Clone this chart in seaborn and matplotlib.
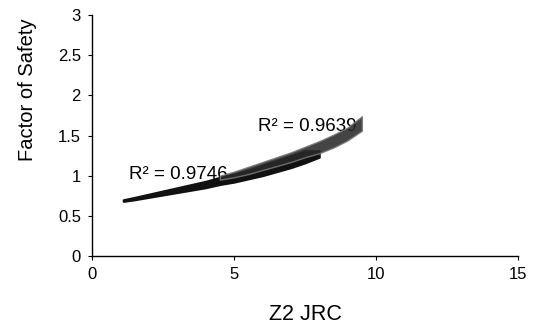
import matplotlib
matplotlib.use("Agg")
import matplotlib.pyplot as plt
import seaborn as sns
import pandas as pd

# Series 1 (black band): x, lower edge, upper edge of the point cloud
s1_x = [1.1, 1.5, 2.0, 2.5, 3.0, 3.5, 4.0, 4.5, 5.0, 5.5, 6.0, 6.5, 7.0, 7.5, 8.0]
s1_lo = [0.68, 0.70, 0.73, 0.76, 0.79, 0.82, 0.85, 0.89, 0.92, 0.96, 1.00, 1.05, 1.10, 1.16, 1.23]
s1_hi = [0.70, 0.73, 0.77, 0.81, 0.85, 0.89, 0.93, 0.98, 1.02, 1.07, 1.13, 1.19, 1.25, 1.31, 1.31]

# Series 2 (grey band)
s2_x = [4.5, 5.0, 5.5, 6.0, 6.5, 7.0, 7.5, 8.0, 8.5, 9.0, 9.5]
s2_lo = [0.95, 0.98, 1.02, 1.07, 1.12, 1.17, 1.23, 1.28, 1.35, 1.44, 1.56]
s2_hi = [1.00, 1.05, 1.11, 1.17, 1.23, 1.29, 1.36, 1.43, 1.51, 1.60, 1.74]

r2_labels = ["R² = 0.9746", "R² = 0.9639"]
r2_pos = [(1.3, 1.01), (5.85, 1.61)]

x_ticks = [0, 5, 10, 15]
y_ticks = [0, 0.5, 1, 1.5, 2, 2.5, 3]
y_tick_labels = ["0", "0.5", "1", "1.5", "2", "2.5", "3"]

sns.set_theme(style="white")
plt.rcParams['font.family'] = ['Liberation Sans', 'DejaVu Sans']

def band_df(xs, lo, hi):
    return pd.DataFrame({"x": xs + xs, "y": lo + hi})

fig = plt.figure(figsize=(5.33, 3.26), dpi=100)
ax = fig.add_axes([0.1726, 0.2147, 0.7994, 0.7393])

mm = lambda v: (v.min(), v.max())
sns.lineplot(data=band_df(s1_x, s1_lo, s1_hi), x="x", y="y", ax=ax,
             errorbar=mm, color="#111111", lw=0,
             err_kws={"alpha": 1.0, "linewidth": 1.5, "edgecolor": "#111111", "zorder": 3})
sns.lineplot(data=band_df(s2_x, s2_lo, s2_hi), x="x", y="y", ax=ax,
             errorbar=mm, color="#2a2a2a", lw=0,
             err_kws={"alpha": 0.88, "linewidth": 1.0, "edgecolor": "#777777", "zorder": 4})

for lab, (px, py) in zip(r2_labels, r2_pos):
    ax.text(px, py, lab, fontsize=13.5, va="center", ha="left", color="black", zorder=2)

ax.set_xlim(0, 15)
ax.set_ylim(0, 3)
ax.set_xticks(x_ticks)
ax.set_yticks(y_ticks)
ax.set_yticklabels(y_tick_labels)
ax.tick_params(axis="both", direction="out", length=3, width=0.8, labelsize=12,
               colors="black", pad=5, left=True, bottom=True)
for side in ["top", "right"]:
    ax.spines[side].set_visible(False)
for side in ["left", "bottom"]:
    ax.spines[side].set_color("black")
    ax.spines[side].set_linewidth(1.0)

ax.set_xlabel("Z2 JRC", fontsize=15.5, color="black")
ax.set_ylabel("Factor of Safety", fontsize=14.5, color="black")
ax.xaxis.set_label_coords(0.5, -0.2)
ax.yaxis.set_label_coords(-0.13, 0.69)

fig.savefig("out.png", dpi=100)
